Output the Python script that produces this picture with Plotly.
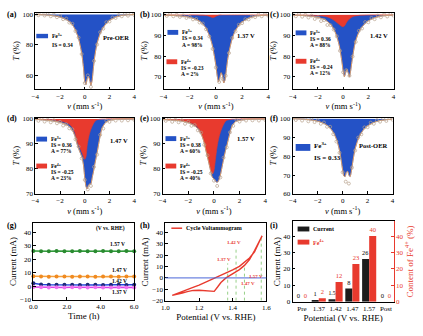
import plotly.graph_objects as go

W, H = 423, 336
SERIF = "Liberation Serif"
BLUE = "#2452c6"
RED = "#e83a2e"
FIT = "#f0a35a"
DOT = "#b8a28c"

# ---------------- Mossbauer data (envelope = total fit, FE4 = Fe4+ sub-spectrum) ----------------
V = [-4, -3, -2.5, -2, -1.5, -1.25, -1, -0.8, -0.6, -0.45, -0.3, -0.2, -0.1, 0, 0.1, 0.2,
     0.3, 0.4, 0.5, 0.6, 0.7, 0.8, 0.9, 1.0, 1.2, 1.4, 1.7, 2, 2.5, 3, 4]
VD = [-4, -3.75, -3.5, -3.25, -3, -2.75, -2.5, -2.25, -2, -1.75, -1.5, -1.25, -1, -0.75, -0.5,
      -0.25, 0, 0.25, 0.5, 0.75, 1, 1.25, 1.5, 1.75, 2, 2.25, 2.5, 2.75, 3, 3.25, 3.5, 3.75, 4]

A_TOTAL = [99.9, 99.5, 99.0, 98.2, 96.6, 95.2, 93.2, 90.5, 86.5, 82.5, 77, 72, 65, 56, 54, 58,
           59.5, 57, 53.5, 57, 65, 72, 77, 81, 86.5, 90, 93.7, 96, 98.2, 99.3, 99.9]
A_DATA = [100.3, 99.4, 100.6, 99.2, 100.1, 98.7, 99.8, 98.1, 98.9, 96.8, 97.2, 94.6, 93.8, 89, 84.8,
          74, 55, 60, 52.5, 69.5, 80.2, 88.3, 90.6, 94.8, 95.3, 97.9, 97.6, 99.5, 98.7, 100.2, 99.1, 100.4, 99.6]

B_TOTAL = [99.9, 99.6, 99.3, 98.8, 97.8, 96.9, 95.6, 94, 91.5, 89.2, 86, 83, 79.5, 75.5, 70.5, 67.5,
           69.5, 72, 70.5, 67, 68.5, 73.5, 78.5, 82, 87.5, 91.2, 94.5, 96.5, 98.4, 99.4, 99.9]
B_FE4 = [100, 100, 100, 99.95, 99.9, 99.85, 99.8, 99.7, 99.5, 99.2, 98.8, 98.7, 98.9, 99.3, 99.6, 99.8,
         99.9, 99.95, 100, 100, 100, 100, 100, 100, 100, 100, 100, 100, 100, 100, 100]
B_DATA = [100.2, 99.5, 100.4, 99.3, 100, 99, 99.7, 98.5, 99, 97.8, 98, 96.3, 95.8, 93, 89.5,
          83.5, 74.5, 67.5, 69, 70.5, 81.5, 88.8, 92, 95.2, 96, 97.9, 97.8, 99.2, 98.9, 100.1, 99.3, 100.3, 99.6]

C_TOTAL = [99.9, 99.6, 99.3, 98.8, 97.8, 96.8, 95.4, 93.7, 91.2, 88.5, 85, 81.5, 77.5, 73, 70, 72,
           73.5, 72, 70, 73, 77.5, 81.5, 85, 87.5, 91, 93.3, 95.6, 97.1, 98.6, 99.4, 99.9]
C_FE4 = [99.95, 99.9, 99.8, 99.65, 99.3, 99.0, 98.4, 97.7, 96.8, 96.0, 95.3, 94.8, 94.4, 94.2, 94.6, 95.6,
         96.6, 97.4, 98, 98.5, 98.9, 99.2, 99.4, 99.5, 99.7, 99.8, 99.85, 99.9, 99.95, 99.95, 100]
C_DATA = [100.2, 99.3, 100.4, 99.1, 100, 98.7, 99.6, 98, 98.8, 97, 97.4, 95.1, 95, 92.9, 89.6,
          82.6, 72.2, 73.2, 70.5, 79.8, 86.9, 92.3, 93.4, 96.5, 96.4, 98.5, 97.9, 99.6, 98.8, 100.2, 99.2, 100.4, 99.6]

D_TOTAL = [99.8, 99.4, 99.1, 98.6, 97.7, 96.9, 95.4, 93.2, 89.6, 87.5, 85.6, 84.2, 81.5, 76.5, 73, 72,
           73.5, 74, 74, 76.5, 78.8, 81.5, 84, 86.5, 92, 96.3, 98.6, 99.4, 99.8, 99.9, 99.95]
D_FE4 = [99.9, 99.7, 99.5, 99.1, 98.4, 97.8, 96.5, 94.5, 91, 89, 87.3, 86.2, 84.8, 83.8, 84.8, 89.5,
         92.3, 94.3, 95.8, 97, 98, 98.8, 99.3, 99.6, 99.8, 99.9, 99.95, 100, 100, 100, 100]
D_DATA = [100.1, 99.2, 100, 98.9, 99.6, 98.6, 99.4, 98.2, 98.8, 97.3, 97.8, 96.2, 95.8, 91.8, 88.9,
          84.2, 75.6, 71.8, 73.2, 80.8, 85.7, 93.6, 96.1, 99.2, 98.8, 99.9, 99.3, 100.2, 99.3, 100.3, 99.4, 100.2, 99.6]

E_TOTAL = [99.7, 99.4, 99.1, 98.5, 97.2, 96, 94, 91.2, 86.8, 83.6, 80.2, 77.8, 76.5, 76, 75.3, 74.7,
           74.8, 75.8, 77.5, 80, 82.6, 85, 87.3, 89.2, 93.5, 97, 99, 99.4, 99.7, 99.85, 99.9]
E_FE4 = [99.85, 99.6, 99.3, 98.8, 97.6, 96.5, 94.6, 91.8, 87.5, 84.5, 81.2, 78.8, 78, 79.2, 83, 87.2,
         90.4, 92.8, 94.6, 96, 97.2, 98.2, 99, 99.4, 99.7, 99.85, 99.9, 99.95, 100, 100, 100]
E_DATA = [100.1, 99.2, 99.9, 98.8, 99.6, 98.6, 99.4, 98, 98.8, 97.2, 97.5, 95.4, 94.5, 89.6, 85.4,
          78.2, 75.3, 73.2, 76.6, 84.5, 88.6, 94.6, 97.2, 99.5, 98.9, 100.1, 99.3, 100.3, 99.4, 100.2, 99.3, 100.2, 99.5]

F_TOTAL = [99.9, 99.6, 99.2, 98.6, 97.4, 96.4, 94.9, 93.2, 90.7, 88.2, 84.5, 81.3, 77.3, 72.8, 69.5, 69.2,
           71.5, 72, 70, 69.2, 72, 76.5, 80.5, 83.8, 88.3, 91.3, 94.3, 96.1, 97.9, 98.9, 99.7]
F_DATA = [100.3, 99.2, 100.5, 98.9, 100.1, 98.5, 99.7, 98.1, 99, 97.2, 97.9, 95.6, 95.6, 91.7, 87.8,
          81.8, 71.5, 66.5, 65.5, 74, 83, 89.9, 91.6, 95.3, 95.4, 97.8, 97.2, 99.1, 98.3, 99.9, 98.7, 100.2, 99.3]

# ---------------- (g) chronoamperometry ----------------
T_H = [0, 0.46, 0.92, 1.38, 1.85, 2.31, 2.77, 3.23, 3.69, 4.15, 4.62, 5.08, 5.54, 6.0]
I_157 = [26.1, 25.9, 26.0, 26.2, 25.9, 26.0, 26.1, 25.9, 26.0, 26.1, 25.9, 26.0, 26.1, 26.0]
I_147 = [7.4, 7.2, 7.1, 7.2, 7.3, 7.1, 7.2, 7.2, 7.1, 7.3, 7.2, 7.1, 7.2, 7.2]
I_142 = [2.2, 1.3, 1.1, 1.0, 1.1, 1.0, 0.9, 1.0, 1.0, 0.9, 1.0, 1.0, 0.9, 1.0]
I_137 = [-0.6, -0.8, -0.9, -0.8, -0.9, -0.8, -0.9, -0.9, -0.8, -0.9, -0.9, -0.8, -0.9, -0.9]

# ---------------- (h) CV ----------------
CV_V = [1.04, 1.07, 1.1, 1.13, 1.165, 1.2, 1.24, 1.29, 1.31, 1.33, 1.36, 1.4, 1.44, 1.47, 1.5, 1.53, 1.555, 1.575,
        1.555, 1.53, 1.5, 1.47, 1.44, 1.4, 1.36, 1.3, 1.26, 1.2, 1.16, 1.1, 1.04]
CV_I = [-15.3, -14.5, -13.3, -12, -11, -10.8, -11.2, -11.8, -8, -4, 0, 3.8, 7.3, 11, 16, 24, 31, 37,
        30, 23, 17.5, 13.5, 10.2, 7, 4.3, -0.2, -2.7, -6.3, -8.6, -11.8, -15.3]
MARK_V = [1.37, 1.42, 1.47, 1.57]
MARK_LABELS = ["1.37 V", "1.42 V", "1.47 V", "1.57 V"]
MARK_TOP = [12.8, 27.4, 10, 36]
MARK_BOT = [-20, -20, -20, -20]

# ---------------- (i) bars ----------------
CATS = ["Pre", "1.37", "1.42", "1.47", "1.57", "Post"]
CURRENT = [0, 1, 1.5, 8, 26, 0]
FE4_CONTENT = [0, 2, 12, 23, 40, 0]

# ---------------- layout helpers ----------------
fig = go.Figure()
lay = dict(width=W, height=H, margin=dict(l=0, r=0, t=0, b=0), paper_bgcolor="white",
           plot_bgcolor="white", showlegend=False, font=dict(family=SERIF, size=7, color="black"))
anns = []
shapes = []


def common(color="black"):
    return dict(showline=True, linecolor=color, linewidth=1, mirror=True, ticks="inside", ticklen=2.5,
                tickwidth=0.8, tickcolor=color, showgrid=False, zeroline=False,
                tickfont=dict(family=SERIF, size=7, color=color))


def set_axes(n, box, xr, yr, xt, yt, xtitle, ytitle, xkw=None, ykw=None, tsize=8.5):
    k = "" if n == 1 else str(n)
    x0, x1, y0, y1 = box
    xa = common()
    xa.update(domain=[x0 / W, x1 / W], range=xr, anchor="y" + k,
              title=dict(text=xtitle, standoff=1, font=dict(family=SERIF, size=tsize)))
    if xt is not None:
        xa["tickvals"] = xt
    ya = common()
    ya.update(domain=[1 - y1 / H, 1 - y0 / H], range=yr, tickvals=yt, anchor="x" + k,
              title=dict(text=ytitle, standoff=1, font=dict(family=SERIF, size=tsize)))
    if xkw:
        xa.update(xkw)
    if ykw:
        ya.update(ykw)
    lay["xaxis" + k] = xa
    lay["yaxis" + k] = ya
    return ("x" + k, "y" + k)


def text(px, py, s, size=5.5, color="black", xanchor="left", bold=False):
    anns.append(dict(x=px / W, y=1 - py / H, xref="paper", yref="paper", text=("<b>%s</b>" % s) if bold else s,
                     showarrow=False, xanchor=xanchor, yanchor="middle",
                     font=dict(family=SERIF, size=size, color=color)))


def rect(x0, y0, x1, y1, color):
    shapes.append(dict(type="rect", xref="paper", yref="paper", x0=x0 / W, x1=x1 / W,
                       y0=1 - y1 / H, y1=1 - y0 / H, fillcolor=color, line=dict(width=0)))


def legend_block(x0, yc, color, lines, dy=6.2, size=5.5):
    rect(x0, yc - 2.5, x0 + 11, yc + 2.5, color)
    for j, s in enumerate(lines):
        text(x0 + 12.5, yc + j * dy, s, size=size, bold=True)


XT_M = [-4, -2, 0, 2, 4]
XTITLE_M = "<i>v</i> (mm s<sup>-1</sup>)"
YTITLE_M = "<i>T</i> (%)"
SPL = dict(shape="spline", smoothing=0.6)


def mossbauer(axes, total, fe4, data):
    xa, ya = axes
    # Fe3+ area: between the Fe4+ curve (or baseline) and the total envelope
    fig.add_trace(go.Scatter(x=V, y=total, mode="lines", fill="toself", fillcolor=BLUE,
                             line=dict(color=BLUE, width=0.6, **SPL),
                             xaxis=xa, yaxis=ya, hoverinfo="skip"))
    if fe4 is not None:
        fig.add_trace(go.Scatter(x=V, y=fe4, mode="lines", fill="toself", fillcolor=RED,
                                 line=dict(color=RED, width=0.6, **SPL),
                                 xaxis=xa, yaxis=ya, hoverinfo="skip"))
    fig.add_trace(go.Scatter(x=V, y=total, mode="lines", line=dict(color=FIT, width=0.9, **SPL),
                             xaxis=xa, yaxis=ya, hoverinfo="skip"))
    fig.add_trace(go.Scatter(x=VD, y=data, mode="markers",
                             marker=dict(symbol="circle-open", size=3, color=DOT, line=dict(width=0.7)),
                             xaxis=xa, yaxis=ya, hoverinfo="skip"))


# (a)
ax = set_axes(1, (32, 133, 10, 88), [-4, 4], [51, 101], XT_M, [60, 80, 100], XTITLE_M, YTITLE_M)
mossbauer(ax, A_TOTAL, None, A_DATA)
rect(33, 31.5, 45, 36, BLUE)
text(47, 33.3, "Fe<sup>3+</sup>", bold=True)
text(47, 42.7, "IS = 0.34", bold=True)
text(114, 35, "Pre-OER", size=6.5, xanchor="center", bold=True)

# (b)
ax = set_axes(2, (163, 270, 10, 88), [-4, 4], [64, 101], XT_M, [70, 80, 90, 100], XTITLE_M, YTITLE_M)
mossbauer(ax, B_TOTAL, B_FE4, B_DATA)
legend_block(167, 30, BLUE, ["Fe<sup>3+</sup>", "IS = 0.34", "A = 98%"])
legend_block(166, 60, RED, ["Fe<sup>4+</sup>", "IS = -0.23", "A = 2%"])
text(247, 33, "1.37 V", size=6.5, xanchor="center", bold=True)

# (c)
ax = set_axes(3, (295, 398, 10, 88), [-4, 4], [64, 101], XT_M, [70, 80, 90, 100], XTITLE_M, YTITLE_M)
mossbauer(ax, C_TOTAL, C_FE4, C_DATA)
legend_block(298, 30.5, BLUE, ["Fe<sup>3+</sup>", "IS = 0.36", "A = 88%"])
legend_block(298, 59.5, RED, ["Fe<sup>4+</sup>", "IS = -0.24", "A = 12%"])
text(383, 33, "1.42 V", size=6.5, xanchor="center", bold=True)

# (d)
ax = set_axes(4, (32, 133, 117, 195), [-4, 4], [70, 100.5], XT_M, [70, 80, 90, 100], XTITLE_M, YTITLE_M)
mossbauer(ax, D_TOTAL, D_FE4, D_DATA)
legend_block(33, 139, BLUE, ["Fe<sup>3+</sup>", "IS = 0.36", "A = 77%"])
legend_block(33, 166.5, RED, ["Fe<sup>4+</sup>", "IS = -0.25", "A = 23%"])
text(117, 140, "1.47 V", size=6.5, xanchor="center", bold=True)

# (e)
ax = set_axes(5, (162, 267, 117, 195), [-4, 4], [70, 100.5], XT_M, [70, 80, 90, 100], XTITLE_M, YTITLE_M)
mossbauer(ax, E_TOTAL, E_FE4, E_DATA)
legend_block(165, 138.5, BLUE, ["Fe<sup>3+</sup>", "IS = 0.38", "A = 60%"])
legend_block(165, 166.5, RED, ["Fe<sup>4+</sup>", "IS = -0.25", "A = 40%"])
text(247, 138, "1.57 V", size=6.5, xanchor="center", bold=True)

# (f)
ax = set_axes(6, (295, 397, 117, 195), [-4, 4], [60, 100.5], XT_M, [60, 70, 80, 90, 100], XTITLE_M, YTITLE_M)
mossbauer(ax, F_TOTAL, None, F_DATA)
rect(298, 144, 313, 151, BLUE)
text(315, 146, "Fe<sup>3+</sup>", size=7, bold=True)
text(315, 158.5, "IS = 0.33", size=7, bold=True)
text(377, 146, "Post-OER", size=6.5, xanchor="center", bold=True)

# (g)
ax = set_axes(7, (30, 133, 225, 303), [0, 6], [-10, 46.7], [0, 2, 4, 6], [-10, 0, 10, 20, 30, 40],
              "Time (h)", "Current (mA)", xkw=dict(tickformat=".1f"), tsize=9)
series_g = [(I_157, "#2f9a3a", "#2a8a30"), (I_147, "#f5a03c", "#f08a20"),
            (I_142, "#2444e0", "#1b2a7a"), (I_137, "#e040e8", "#f070f0")]
for ys, lc, mc in series_g:
    fig.add_trace(go.Scatter(x=T_H, y=ys, mode="lines+markers", line=dict(color=lc, width=1.5),
                             marker=dict(size=4, color=mc), xaxis=ax[0], yaxis=ax[1], cliponaxis=False,
                             hoverinfo="skip"))
for (tx, ty, s) in [(4.6, 42.8, "(V vs. RHE)"), (5.0, 31.2, "1.57 V"), (5.1, 11.7, "1.47 V"),
                    (5.1, 3.9, "1.42 V"), (5.1, -4.2, "1.37 V")]:
    anns.append(dict(x=tx, y=ty, xref=ax[0], yref=ax[1], text="<b>%s</b>" % s, showarrow=False,
                     xanchor="center", yanchor="middle", font=dict(family=SERIF, size=5.5)))

# (h)
ax = set_axes(8, (165, 268, 225, 304), [1.0, 1.6], [-20, 48], [1.0, 1.2, 1.4, 1.6],
              [-20, -10, 0, 10, 20, 30, 40], "Potential (V vs. RHE)", "Current (mA)",
              xkw=dict(tickformat=".1f"), tsize=9)
shapes.append(dict(type="line", xref="x8 domain", yref="y8", x0=0, x1=1, y0=0, y1=0,
                   line=dict(color="#4a66d8", width=1)))
for v, top, bot in zip(MARK_V, MARK_TOP, MARK_BOT):
    fig.add_trace(go.Scatter(x=[v, v], y=[bot, top], mode="lines",
                             line=dict(color="#7cc46a", width=0.8, dash="dot"),
                             xaxis=ax[0], yaxis=ax[1], hoverinfo="skip"))
fig.add_trace(go.Scatter(x=CV_V, y=CV_I, mode="lines", line=dict(color=RED, width=1.4),
                         xaxis=ax[0], yaxis=ax[1], hoverinfo="skip"))
for (tx, ty), s in zip([(1.349, 16.2), (1.408, 31), (1.492, -5), (1.54, 1.0)], MARK_LABELS):
    anns.append(dict(x=tx, y=ty, xref=ax[0], yref=ax[1], text="<b>%s</b>" % s, showarrow=False,
                     xanchor="center", yanchor="middle", font=dict(family=SERIF, size=5, color=RED)))
shapes.append(dict(type="line", xref="paper", yref="paper", x0=171 / W, x1=182 / W,
                   y0=1 - 230 / H, y1=1 - 230 / H, line=dict(color=RED, width=1.5)))
text(184, 230, "Cycle Voltammogram", size=6, bold=True)

# (i)
ax = set_axes(9, (295, 398, 223, 305), [-0.55, 5.45], [0, 49], None, [0, 10, 20, 30, 40],
              "Potential (V vs. RHE)", "Current (mA)", ykw=dict(mirror=False), tsize=9)
lay["xaxis9"].update(type="category", ticks="")
lay["yaxis10"] = dict(common(RED), overlaying="y9", side="right", anchor="x9", range=[0, 49],
                      tickvals=[0, 10, 20, 30, 40], mirror=False,
                      title=dict(text="Content of Fe<sup>4+</sup> (%)", standoff=1,
                                 font=dict(family=SERIF, size=9, color=RED)))
fig.add_trace(go.Bar(x=CATS, y=CURRENT, marker=dict(color="#1c1c1c", line=dict(width=0)),
                     width=0.42, offset=-0.42, text=[f"{v:g}" for v in CURRENT], textposition="outside",
                     textfont=dict(family=SERIF, size=6.5, color="black"), cliponaxis=False,
                     xaxis="x9", yaxis="y9", hoverinfo="skip"))
fig.add_trace(go.Bar(x=CATS, y=FE4_CONTENT, marker=dict(color=RED, line=dict(width=0)),
                     width=0.42, offset=0, text=[f"{v:g}" for v in FE4_CONTENT], textposition="outside",
                     textfont=dict(family=SERIF, size=6.5, color=RED), cliponaxis=False,
                     xaxis="x9", yaxis="y10", hoverinfo="skip"))
rect(300, 228.3, 312, 233.3, "#1c1c1c")
text(314, 230.8, "Current", size=6, bold=True)
rect(300, 241.7, 312, 246.7, RED)
text(314, 244.2, "Fe<sup>4+</sup>", size=6, color=RED, bold=True)

# panel labels
for lbl, px, py in [("(a)", 1, 12), ("(b)", 137, 12), ("(c)", 270, 12),
                    ("(d)", 1, 118), ("(e)", 137, 118), ("(f)", 270, 118),
                    ("(g)", 1, 227), ("(h)", 137, 227), ("(i)", 270, 227)]:
    text(px, py, lbl, size=8, bold=True)

lay["annotations"] = anns
lay["shapes"] = shapes
fig.update_layout(**lay)
fig.write_html("out.html")
